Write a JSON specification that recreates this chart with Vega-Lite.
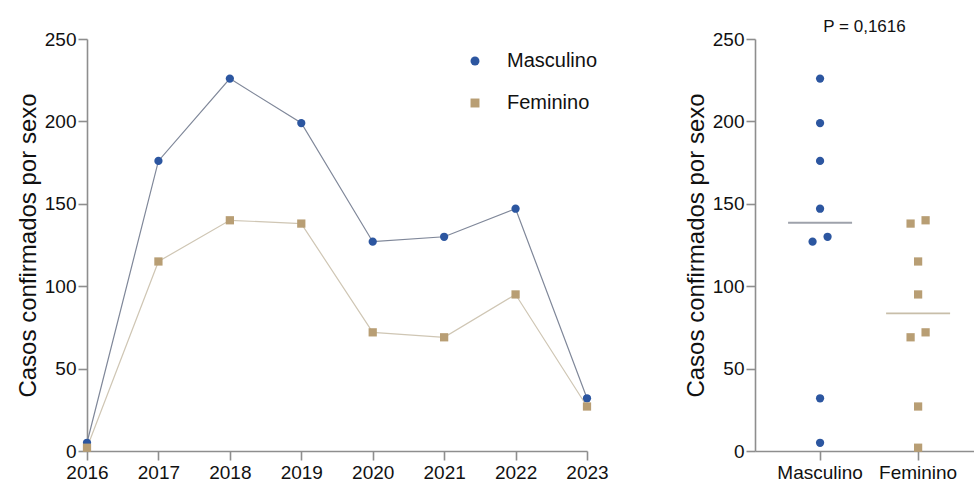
{
  "$schema": "https://vega.github.io/schema/vega-lite/v6.json",
  "padding": {"left": 16, "top": 18, "right": 0, "bottom": 0},
  "background": "white",
  "bounds": "flush",
  "spacing": 168,
  "config": {
    "view": {"stroke": null},
    "font": "Liberation Sans",
    "axis": {
      "grid": false,
      "domainColor": "#8e8e8e",
      "domainWidth": 1.6,
      "tickColor": "#8e8e8e",
      "tickWidth": 1.6,
      "tickSize": 9,
      "labelFontSize": 19,
      "labelColor": "#111111",
      "labelPadding": 2,
      "titleFontSize": 24,
      "titleFontWeight": "normal",
      "titleColor": "#111111"
    },
    "title": {"fontSize": 17, "fontWeight": "normal", "color": "#111111"}
  },
  "datasets": {
    "casos": [
      {"ano": "2016", "sexo": "Masculino", "casos": 5},
      {"ano": "2017", "sexo": "Masculino", "casos": 176},
      {"ano": "2018", "sexo": "Masculino", "casos": 226},
      {"ano": "2019", "sexo": "Masculino", "casos": 199},
      {"ano": "2020", "sexo": "Masculino", "casos": 127},
      {"ano": "2021", "sexo": "Masculino", "casos": 130},
      {"ano": "2022", "sexo": "Masculino", "casos": 147},
      {"ano": "2023", "sexo": "Masculino", "casos": 32},
      {"ano": "2016", "sexo": "Feminino", "casos": 2},
      {"ano": "2017", "sexo": "Feminino", "casos": 115},
      {"ano": "2018", "sexo": "Feminino", "casos": 140},
      {"ano": "2019", "sexo": "Feminino", "casos": 138},
      {"ano": "2020", "sexo": "Feminino", "casos": 72},
      {"ano": "2021", "sexo": "Feminino", "casos": 69},
      {"ano": "2022", "sexo": "Feminino", "casos": 95},
      {"ano": "2023", "sexo": "Feminino", "casos": 27}
    ]
  },
  "resolve": {"scale": {"fill": "independent", "shape": "independent", "stroke": "independent", "color": "independent"}},
  "hconcat": [
    {
      "width": 500,
      "height": 412,
      "data": {"name": "casos"},
      "encoding": {
        "x": {
          "field": "ano",
          "type": "ordinal",
          "scale": {"type": "point", "padding": 0},
          "axis": {"title": null, "labelAngle": 0, "labelPadding": 3}
        },
        "y": {
          "field": "casos",
          "type": "quantitative",
          "scale": {"domain": [0, 250], "nice": false},
          "axis": {"title": "Casos confirmados por sexo", "values": [0, 50, 100, 150, 200, 250], "titlePadding": 4}
        }
      },
      "layer": [
        {
          "mark": {"type": "line", "strokeWidth": 1.2},
          "encoding": {
            "stroke": {
              "field": "sexo",
              "type": "nominal",
              "sort": ["Masculino", "Feminino"],
              "scale": {"range": ["#7f8799", "#cfc6b4"]},
              "legend": null
            }
          }
        },
        {
          "mark": {"type": "point", "filled": true, "size": 68, "opacity": 1},
          "encoding": {
            "fill": {
              "field": "sexo",
              "type": "nominal",
              "scale": {"domain": ["Masculino", "Feminino"], "range": ["#2c56a0", "#b89e74"]},
              "legend": {
                "title": null,
                "orient": "none",
                "legendX": 378,
                "legendY": 12,
                "labelFontSize": 20,
                "labelColor": "#111111",
                "labelOffset": 22,
                "rowPadding": 22,
                "symbolSize": 80
              }
            },
            "shape": {
              "field": "sexo",
              "type": "nominal",
              "scale": {"domain": ["Masculino", "Feminino"], "range": ["circle", "square"]},
              "legend": {
                "title": null,
                "orient": "none",
                "legendX": 378,
                "legendY": 12,
                "labelFontSize": 20,
                "labelColor": "#111111",
                "labelOffset": 22,
                "rowPadding": 22,
                "symbolSize": 80
              }
            }
          }
        }
      ]
    },
    {
      "width": 219,
      "height": 412,
      "title": {"text": "P = 0,1616", "offset": -6},
      "data": {"name": "casos"},
      "transform": [
        {"bin": {"step": 15, "extent": [0, 300]}, "field": "casos", "as": "faixa"},
        {"joinaggregate": [{"op": "count", "as": "n"}], "groupby": ["sexo", "faixa"]},
        {"window": [{"op": "rank", "as": "r"}], "sort": [{"field": "casos", "order": "ascending"}], "groupby": ["sexo", "faixa"]}
      ],
      "encoding": {
        "x": {
          "field": "sexo",
          "type": "nominal",
          "sort": ["Masculino", "Feminino"],
          "scale": {"type": "band", "paddingInner": 0, "paddingOuter": 0.117, "align": 0.7},
          "axis": {"title": null, "labelAngle": 0, "labelPadding": 3}
        },
        "y": {
          "field": "casos",
          "type": "quantitative",
          "scale": {"domain": [0, 250], "nice": false},
          "axis": {"title": "Casos confirmados por sexo", "values": [0, 50, 100, 150, 200, 250], "titlePadding": 4}
        }
      },
      "layer": [
        {
          "transform": [{"filter": "datum.n == 1"}],
          "mark": {"type": "point", "filled": true, "size": 68, "opacity": 1},
          "encoding": {
            "fill": {"field": "sexo", "type": "nominal", "scale": {"domain": ["Masculino", "Feminino"], "range": ["#2c56a0", "#b89e74"]}, "legend": null},
            "shape": {"field": "sexo", "type": "nominal", "scale": {"domain": ["Masculino", "Feminino"], "range": ["circle", "square"]}, "legend": null}
          }
        },
        {
          "transform": [{"filter": "datum.n == 2"}],
          "mark": {"type": "point", "filled": true, "size": 68, "opacity": 1},
          "encoding": {
            "xOffset": {"field": "r", "type": "ordinal", "scale": {"type": "point", "range": [41.5, 56.5], "padding": 0}},
            "fill": {"field": "sexo", "type": "nominal", "scale": {"domain": ["Masculino", "Feminino"], "range": ["#2c56a0", "#b89e74"]}, "legend": null},
            "shape": {"field": "sexo", "type": "nominal", "scale": {"domain": ["Masculino", "Feminino"], "range": ["circle", "square"]}, "legend": null}
          }
        },
        {
          "mark": {"type": "tick", "size": 64, "thickness": 1.8},
          "encoding": {
            "y": {"aggregate": "median", "field": "casos", "type": "quantitative"},
            "color": {"field": "sexo", "type": "nominal", "scale": {"domain": ["Masculino", "Feminino"], "range": ["#9ea2ab", "#c8bea9"]}, "legend": null}
          }
        }
      ]
    }
  ]
}
